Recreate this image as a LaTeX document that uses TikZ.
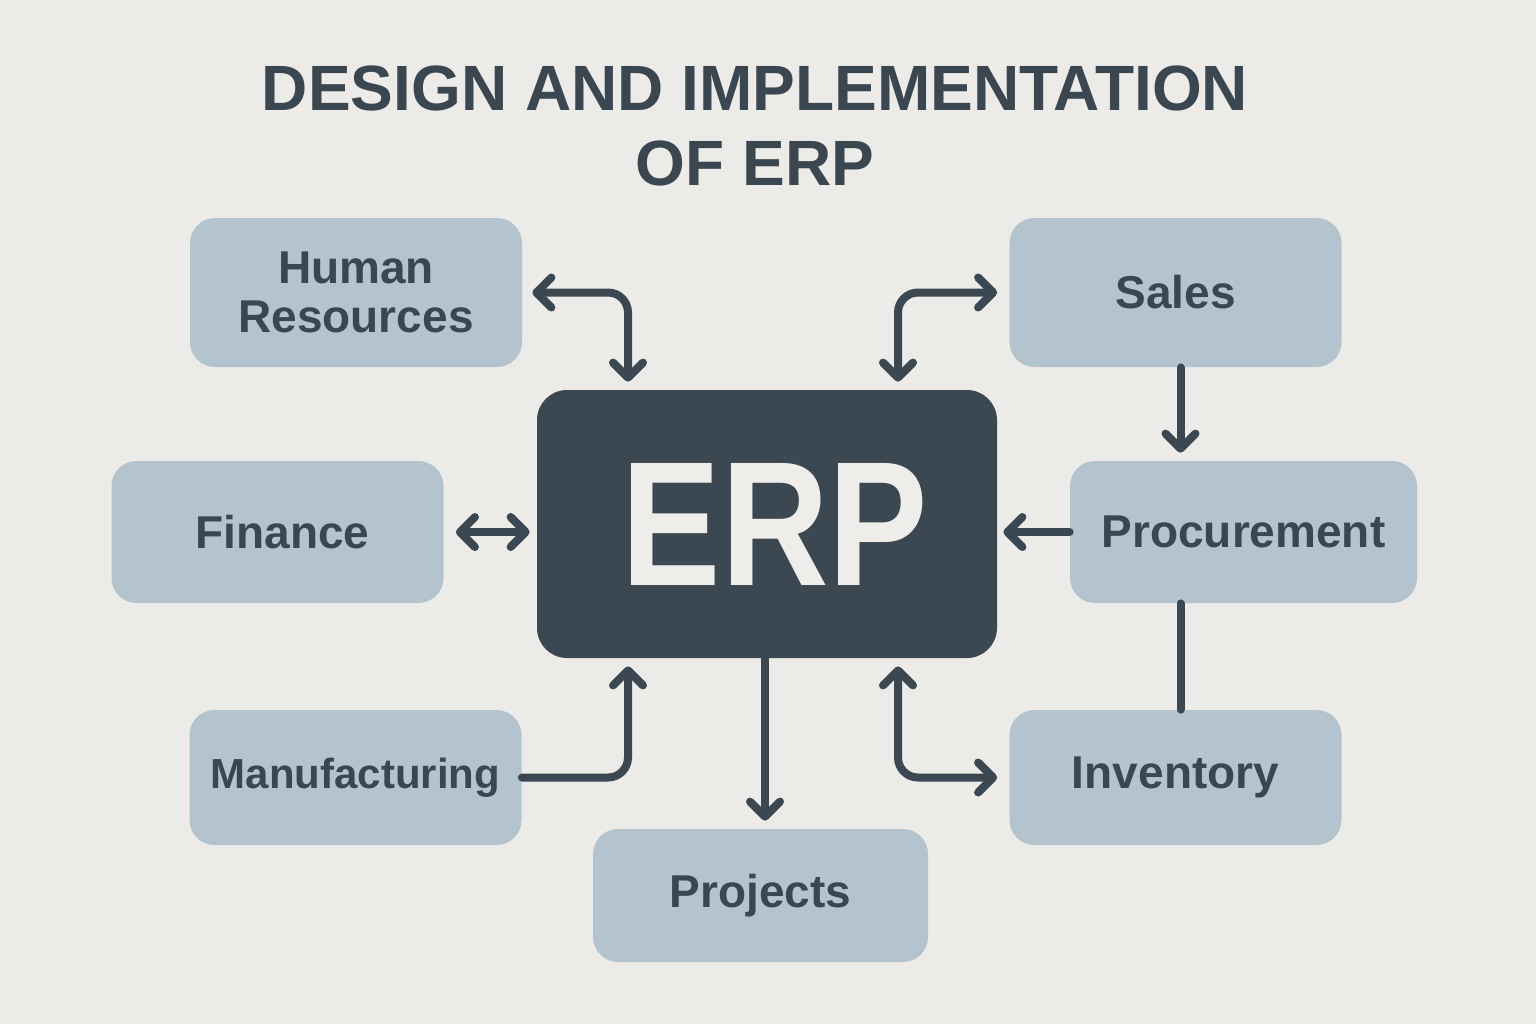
\documentclass[tikz,border=0pt]{standalone}
\usepackage{fontspec}
\setmainfont{Liberation Sans}
\usetikzlibrary{arrows.meta,calc}
\definecolor{bg}{HTML}{EDEBE7}
\definecolor{boxc}{HTML}{B4C4CF}
\definecolor{dark}{HTML}{3B4852}
\definecolor{txt}{HTML}{3A4650}
\definecolor{light}{HTML}{EFEDE9}
\begin{document}
\begin{tikzpicture}[x=0.5pt,y=-0.5pt,
  module/.style={fill=boxc,rounded corners=12.5pt,minimum width=166pt,minimum height=72pt,
     text=txt,font=\fontsize{23}{24.5}\selectfont\bfseries,align=center,inner sep=0pt},
  core/.style={fill=dark,rounded corners=15pt,minimum width=230pt,minimum height=134pt,
     text=light,inner sep=0pt},
  conn/.style={draw=dark,line width=4pt,rounded corners=10pt,line cap=round},
  tip/.tip={Straight Barb[length=7.5pt,width=15pt,round]}]
\fill[bg] (0,0) rectangle (1536,1024);
\useasboundingbox (0,0) rectangle (1536,1024);
\node[text=txt,font=\fontsize{32}{37.5}\selectfont\bfseries,align=center,anchor=base] (title) at (755,185)
  {DESIGN AND IMPLEMENTATION\\OF ERP};
\node[core] (ERP) at (767,524) {\hspace*{8pt}\fontsize{88.7}{90}\selectfont\bfseries\scalebox{0.84}[1]{ERP}};
\node[module,minimum height=74.5pt] (HR) at (356,292.5) {Human\\Resources};
\node[module,minimum height=74.5pt] (Sales) at (1175.5,292.5) {Sales};
\node[module,minimum height=71pt] (Fin) at (277.5,532) {\hspace*{5pt}Finance};
\node[module,minimum height=71pt,minimum width=173.5pt] (Proc) at (1243.5,532) {Procurement};
\node[module,minimum height=67.5pt,font=\fontsize{21}{24}\selectfont\bfseries] (Manu) at (355.5,777.5) {Manufacturing};
\node[module,minimum height=67.5pt] (Inv) at (1175.5,777.5) {Inventory};
\node[module,minimum height=66.5pt,minimum width=167.5pt] (Proj) at (760.5,895.5) {Projects};
% connectors
\draw[conn,tip-tip] ($(HR.east)+(10,0)$) -| ($(ERP.north)+(-139,-8)$);
\draw[conn,tip-tip] ($(ERP.north)+(131,-8)$) |- ($(Sales.west)+(-12,0)$);
\draw[conn,tip-tip] ($(Fin.east)+(12,0)$) -- ($(Fin.east -| ERP.west)+(-7,0)$);
\draw[conn,-tip] (Proc.west) -- ($(Proc.west -| ERP.east)+(6,0)$);
\draw[conn,-tip] ($(Sales.south)+(5,0)$) -- ($(Sales.south |- Proc.north)+(5,-8)$);
\draw[conn] ($(Inv.north)+(5,0)$) -- ($(Inv.north |- Proc.south)+(5,0)$);
\draw[conn,-tip] (Manu.east) -| ($(ERP.south)+(-139,8)$);
\draw[conn,-tip] ($(ERP.south)+(-2,0)$) -- ($(ERP.south |- Proj.north)+(-2,-8)$);
\draw[conn,tip-tip] ($(ERP.south)+(131,8)$) |- ($(Inv.west)+(-12,0)$);
\end{tikzpicture}
\end{document}
